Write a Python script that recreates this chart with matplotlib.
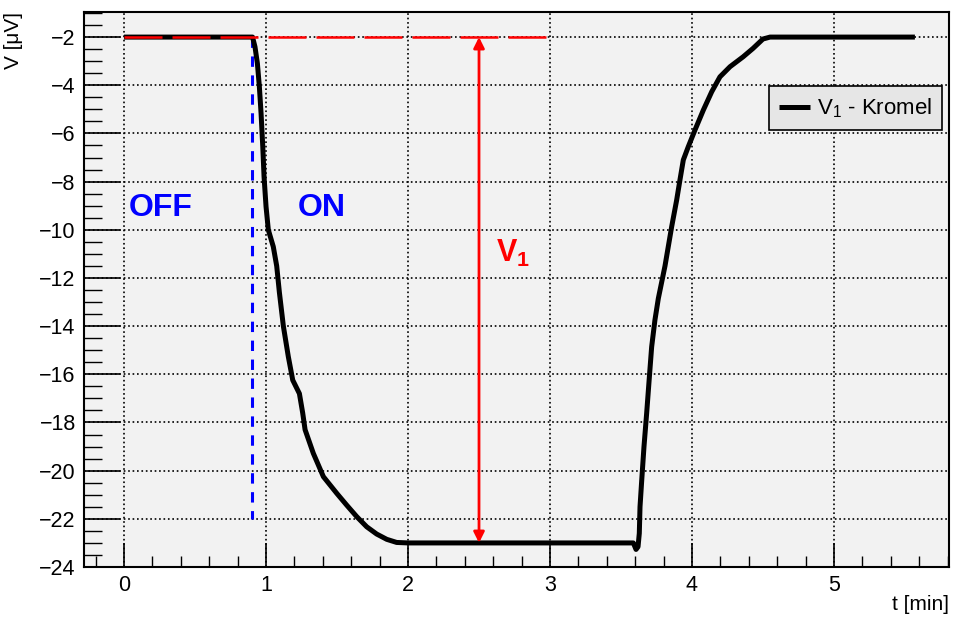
import matplotlib
matplotlib.use('Agg')
import matplotlib.pyplot as plt
import numpy as np

plt.rcParams['font.family'] = ['Liberation Sans', 'DejaVu Sans']
plt.rcParams['mathtext.default'] = 'regular'

# measured curve V1 - Kromel
t = [0.0, 0.3, 0.6, 0.905, 0.922, 0.939, 0.953, 0.965, 0.977, 0.986, 1.0, 1.016,
     1.051, 1.075, 1.094, 1.122, 1.157, 1.188, 1.235, 1.258, 1.275, 1.333, 1.404,
     1.498, 1.568, 1.639, 1.709, 1.779, 1.85, 1.92, 2.0, 2.5, 3.0, 3.5, 3.587,
     3.606, 3.62, 3.629, 3.634, 3.646, 3.662, 3.681, 3.70, 3.716, 3.739, 3.763,
     3.81, 3.857, 3.892, 3.915, 3.939, 3.974, 4.021, 4.08, 4.139, 4.197, 4.268,
     4.36, 4.43, 4.50, 4.55, 5.0, 5.57]
v = [-2.0, -2.0, -2.0, -2.0, -2.4, -3.09, -4.06, -5.17, -6.55, -7.8, -9.04, -10.0,
     -10.7, -11.5, -12.6, -14.0, -15.27, -16.24, -16.8, -17.6, -18.3, -19.28, -20.25,
     -20.94, -21.43, -21.91, -22.33, -22.63, -22.85, -22.98, -23.0, -23.0, -23.0, -23.0, -23.0,
     -23.27, -23.16, -22.6, -21.5, -20.4, -19.0, -17.6, -16.1, -14.86, -13.75, -12.85,
     -11.5, -9.87, -8.77, -7.94, -7.1, -6.55, -5.86, -5.03, -4.27, -3.65, -3.23,
     -2.82, -2.47, -2.08, -2.0, -2.0, -2.0]

t_switch = 0.9
t_arrow = 2.5
v_top = -2.0
v_bottom = -23.0

fig = plt.figure(figsize=(9.57, 6.17), dpi=100)
ax = fig.add_axes([0.0878, 0.081, 0.9038, 0.8995])
ax.set_facecolor('#f2f2f2')

ax.set_xlim(-0.282, 5.81)
ax.set_ylim(-24, -0.96)
ax.set_xticks(np.arange(0, 6, 1))
ax.set_yticks(np.arange(-24, -1, 2))
ax.set_xticks(np.arange(-0.2, 5.81, 0.2), minor=True)
ax.set_yticks(np.arange(-24, -0.96, 0.5), minor=True)
ax.tick_params(which='major', direction='in', length=17, width=1.2, labelsize=15.5,
               top=False, right=False, pad=6)
ax.tick_params(which='minor', direction='in', length=8, width=1.0, top=False, right=False)
ax.tick_params(axis='y', which='major', length=26)
ax.tick_params(axis='y', which='minor', length=13)
ax.grid(True, which='major', color='black', linestyle=':', linewidth=1.2)
ax.set_axisbelow(True)
for s in ax.spines.values():
    s.set_linewidth(1.5)

ax.plot([t_switch, t_switch], [v_top, -22], color='blue', lw=2.2, dashes=(3.4, 2.8), zorder=3)

line, = ax.plot(t, v, color='black', lw=3.6, zorder=3, label='V$_1$ - Kromel',
                solid_joinstyle='round', solid_capstyle='butt')
# red dashed level line drawn over the curve
ax.plot([0, 3], [v_top, v_top], color='red', lw=1.8, dashes=(15.2, 4), zorder=4)

ax.annotate('', xy=(t_arrow, v_bottom), xytext=(t_arrow, v_top),
            arrowprops=dict(arrowstyle='<|-|>', color='red', lw=2.0,
                            mutation_scale=16, shrinkA=0, shrinkB=0), zorder=5)

ax.text(0.03, -9.1, 'OFF', color='blue', fontsize=23, fontweight='bold', va='center')
ax.text(1.22, -9.1, 'ON', color='blue', fontsize=23, fontweight='bold', va='center')
ax.text(2.62, -11.0, 'V$_1$', color='red', fontsize=22, fontweight='bold', va='center')

leg = ax.legend(handles=[line], loc='upper right', bbox_to_anchor=(0.992, 0.866),
                fontsize=16, frameon=True, fancybox=False, handlelength=1.4,
                borderpad=0.45, handletextpad=0.3, borderaxespad=0)
leg.get_frame().set_facecolor('#e6e6e6')
leg.get_frame().set_edgecolor('black')
leg.get_frame().set_linewidth(1.2)
leg.get_frame().set_alpha(1)

ax.set_xlabel('t [min]', fontsize=15, loc='right')
ax.xaxis.set_label_coords(1.0, -0.05)
ax.set_ylabel('V [μV]', fontsize=15, loc='top')
ax.yaxis.set_label_coords(-0.07, 1.0)

fig.savefig('out.png', dpi=100)
